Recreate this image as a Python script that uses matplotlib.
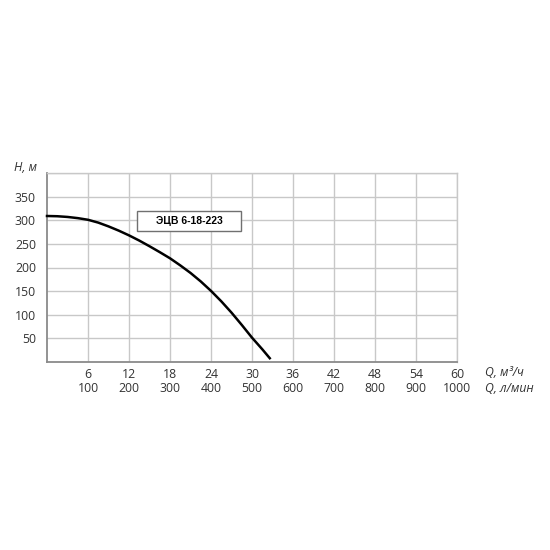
import matplotlib.pyplot as plt
from matplotlib.patches import Rectangle

# pump curve
flow_m3h = [0, 1.5, 3, 4.5, 6, 7.5, 9, 10.5, 12, 13.5, 15, 16.5, 18, 19.5,
            21, 22.5, 24, 25.5, 27, 28.5, 30, 31.5, 32.6]
head_m = [309, 308.5, 307, 304.5, 301, 295, 287, 278, 268, 257, 245, 232.5,
          219.5, 204.5, 188.5, 170.5, 150.5, 128.5, 104.5, 78.5, 51.5, 27, 8]

x_ticks = [6, 12, 18, 24, 30, 36, 42, 48, 54, 60]
x_ticks_lmin = [100, 200, 300, 400, 500, 600, 700, 800, 900, 1000]
y_ticks = [50, 100, 150, 200, 250, 300, 350]
model = "ЭЦВ 6-18-223"

plt.rcParams["font.family"] = ["Open Sans", "DejaVu Sans"]
txt_col = "#333333"
fs = 8.8

fig = plt.figure(figsize=(5.5, 5.5), dpi=100)
ax = fig.add_axes([47 / 550, 1 - 362 / 550, 410 / 550, 189 / 550])

ax.set_xlim(0, 60)
ax.set_ylim(0, 400)
ax.set_xticks(x_ticks)
ax.set_xticklabels([str(v) for v in x_ticks], color=txt_col, fontsize=fs)
ax.set_yticks(y_ticks + [400])
ax.set_yticklabels([str(v) for v in y_ticks] + [""], color=txt_col, fontsize=fs)
ax.tick_params(length=0, pad=8)
ax.tick_params(axis="x", pad=4)
ax.grid(True, color="#c8c8c8", linewidth=1)
ax.set_axisbelow(True)

# second row of x labels, l/min
for q, l in zip(x_ticks, x_ticks_lmin):
    ax.text(q, -57, str(l), fontsize=fs, color=txt_col, ha="center", va="center",
            clip_on=False)

for side in ("top", "right"):
    ax.spines[side].set_color("#c8c8c8")
    ax.spines[side].set_linewidth(1)
for side in ("left", "bottom"):
    ax.spines[side].set_color("#8a8a8a")
    ax.spines[side].set_linewidth(1.3)

ax.plot(flow_m3h, head_m, color="black", linewidth=1.8, clip_on=False, zorder=3,
        solid_joinstyle="round")

ax.text(-1.4, 411, "H, м", style="italic", fontsize=fs, color=txt_col,
        ha="right", va="center", clip_on=False)
ax.text(64.1, -23, "Q, м³/ч", style="italic", fontsize=fs, color=txt_col,
        ha="left", va="center", clip_on=False)
ax.text(64.1, -57, "Q, л/мин", style="italic", fontsize=fs, color=txt_col,
        ha="left", va="center", clip_on=False)

ax.add_patch(Rectangle((13.2, 278), 15.2, 42, facecolor="white",
                       edgecolor="#707070", linewidth=1, zorder=4))
ax.text(20.8, 299, model, fontsize=7.5, fontweight="bold", family="Liberation Sans",
        color="black", ha="center", va="center", zorder=5)

fig.savefig("out.png", dpi=100)
